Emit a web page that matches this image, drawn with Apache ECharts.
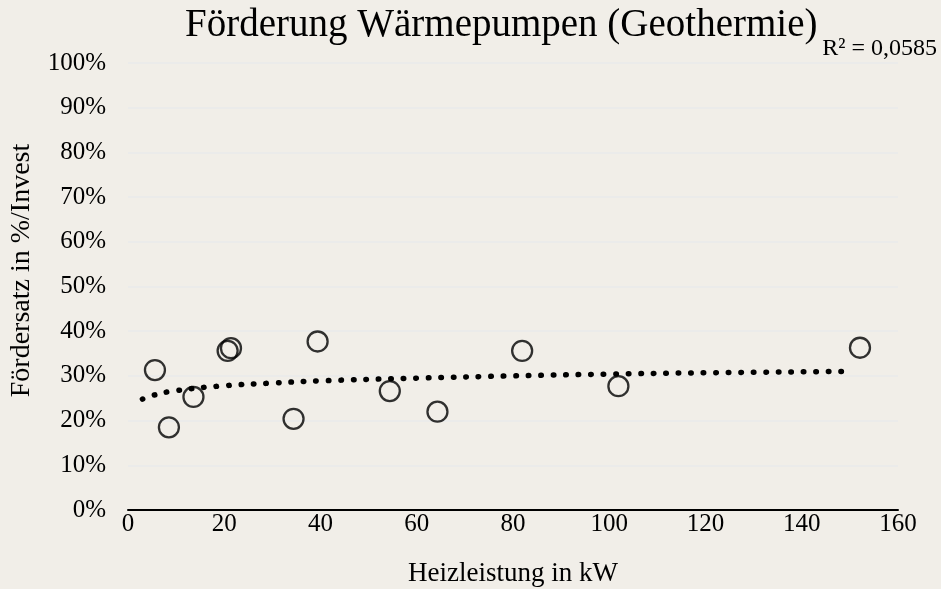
<!DOCTYPE html>
<html>
<head>
<meta charset="utf-8">
<script src="https://cdn.jsdelivr.net/npm/echarts@6/dist/echarts.min.js"></script>
<style>
  html, body { margin: 0; padding: 0; background: #f1eee8; }
  #chart { width: 941px; height: 589px; }
</style>
</head>
<body>
<div id="chart"></div>
<script>
// Heizleistung (kW) and Fördersatz (%)
const heizleistung = [5.6, 8.5, 13.6, 20.7, 21.4, 34.4, 39.4, 54.4, 64.3, 81.9, 101.9, 152.1]
const foerdersatz = [31.3, 18.5, 25.3, 35.6, 36.2, 20.4, 37.7, 26.6, 22.0, 35.6, 27.7, 36.3]

// trend line
const trendX = [3, 5, 10, 20, 30, 40, 60, 80, 100, 120, 150]
const trendY = [24.8, 25.6, 26.7, 27.8, 28.4, 28.9, 29.5, 30.0, 30.4, 30.7, 31.0]

const titleText = 'Förderung Wärmepumpen (Geothermie)'
const rSquared = 'R² = 0,0585'
const font = 'Liberation Serif'

const chart = echarts.init(document.getElementById('chart'))

chart.setOption({
  backgroundColor: '#f1eee8',
  animation: false,
  title: {
    text: titleText,
    left: 180,
    top: 1,
    textStyle: {
      fontFamily: font,
      fontWeight: 'normal',
      fontSize: 39,
      color: '#000'
    }
  },
  graphic: [{
    type: 'text',
    right: 4,
    top: 37,
    style: {
      text: rSquared,
      font: '24px "Liberation Serif"',
      fill: '#000'
    }
  }],
  grid: {
    left: 128,
    right: 43,
    top: 63,
    bottom: 79,
    outerBoundsMode: 'none'
  },
  xAxis: {
    type: 'value',
    min: 0,
    max: 160,
    interval: 20,
    name: 'Heizleistung in kW',
    nameLocation: 'middle',
    nameGap: 50,
    nameTextStyle: { fontFamily: font, fontSize: 27, color: '#000' },
    axisLine: { show: true, onZero: false, lineStyle: { color: '#000', width: 2 } },
    axisTick: { show: false },
    axisLabel: { fontFamily: font, fontSize: 25, color: '#000', margin: 2 },
    splitLine: { show: false }
  },
  yAxis: {
    type: 'value',
    min: 0,
    max: 100,
    interval: 10,
    name: 'Fördersatz in %/Invest',
    nameLocation: 'middle',
    nameGap: 92,
    nameTextStyle: { fontFamily: font, fontSize: 28, color: '#000', padding: [0, 0, 0, 32] },
    axisLine: { show: false },
    axisTick: { show: false },
    axisLabel: {
      fontFamily: font,
      fontSize: 25,
      color: '#000',
      margin: 22,
      formatter: '{value}%'
    },
    splitLine: { lineStyle: { color: '#ebebea', width: 2 } }
  },
  series: [
    {
      name: 'Trend',
      type: 'line',
      data: trendX.map((x, i) => [x, trendY[i]]),
      smooth: true,
      showSymbol: false,
      lineStyle: {
        color: '#000',
        width: 5.5,
        type: [0.5, 12],
        cap: 'round'
      },
      z: 1
    },
    {
      name: 'Förderung',
      type: 'scatter',
      data: heizleistung.map((x, i) => [x, foerdersatz[i]]),
      symbol: 'circle',
      symbolSize: 20,
      itemStyle: {
        color: 'rgba(0,0,0,0)',
        borderColor: '#000',
        borderWidth: 2.3
      },
      z: 2
    }
  ]
})
</script>
</body>
</html>
